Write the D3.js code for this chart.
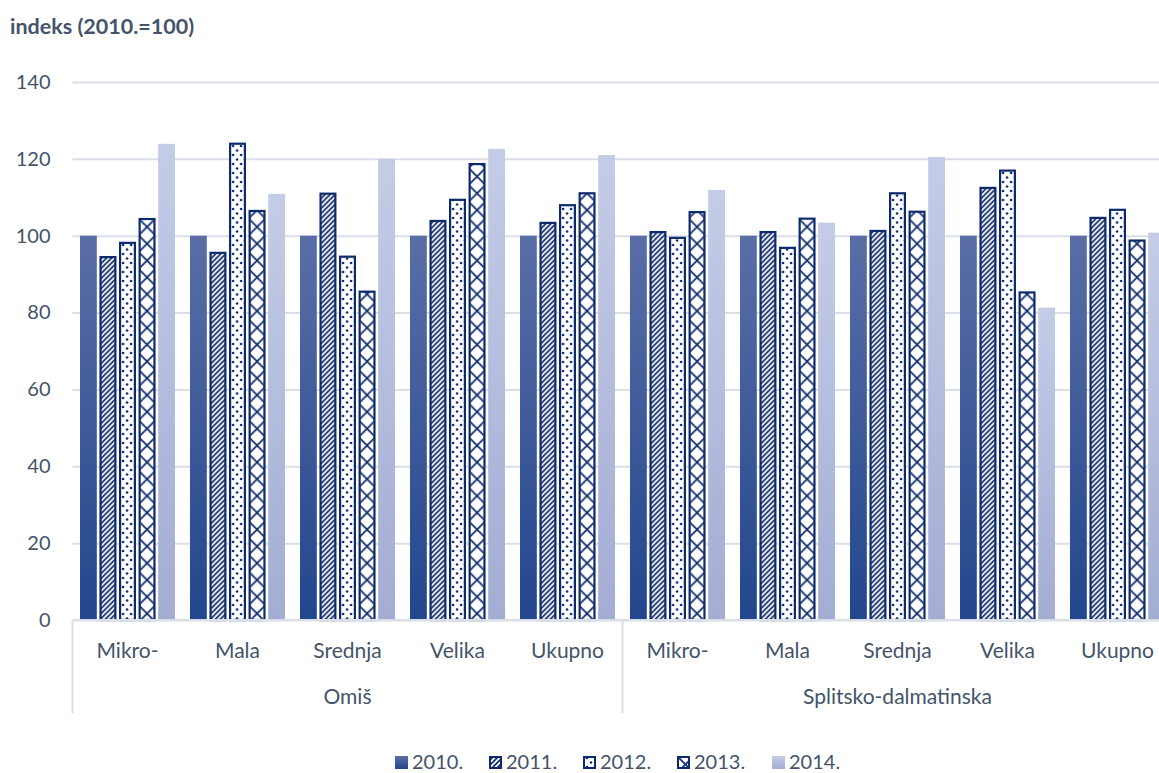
<!DOCTYPE html>
<html><head><meta charset="utf-8">
<script src="https://cdn.jsdelivr.net/npm/d3@7"></script>
<style>body{margin:0;background:#fff}svg{display:block;font-family:Lato,"Open Sans",sans-serif}</style>
</head><body><svg id="c" width="1159" height="773"></svg>
<script>
const groups = ["Omiš", "Splitsko-dalmatinska"];
const categories = ["Mikro-", "Mala", "Srednja", "Velika", "Ukupno"];
const years = ["2010.", "2011.", "2012.", "2013.", "2014."];
const v2010 = [100, 100, 100, 100, 100, 100, 100, 100, 100, 100];
const v2011 = [94.7, 95.8, 111.2, 104.1, 103.6, 101.2, 101.2, 101.5, 112.7, 104.9];
const v2012 = [98.4, 124.2, 94.8, 109.6, 108.2, 99.7, 97.1, 111.3, 117.2, 107.0];
const v2013 = [104.6, 106.7, 85.7, 118.9, 111.3, 106.4, 104.7, 106.5, 85.5, 99.0];
const v2014 = [123.9, 110.9, 120.0, 122.6, 121.0, 111.9, 103.4, 120.5, 81.3, 100.8];
const yTicks = [0, 20, 40, 60, 80, 100, 120, 140];
const series = [v2010, v2011, v2012, v2013, v2014];

const svg = d3.select("#c");
const textCol = "#44546a", navy = "#0e2a6a", grid = "#dadee6";
const defs = svg.append("defs");
function grad(id, top, bot) {
  const g = defs.append("linearGradient").attr("id", id).attr("x1", 0).attr("y1", 0).attr("x2", 0).attr("y2", 1);
  g.append("stop").attr("offset", 0).attr("stop-color", top);
  g.append("stop").attr("offset", 1).attr("stop-color", bot);
}
grad("g2010", "#5a6ea6", "#22468d");
grad("g2014", "#c4cce7", "#a3add3");
// patterns
const pDiag = defs.append("pattern").attr("id", "p2011").attr("patternUnits", "userSpaceOnUse").attr("width", 5).attr("height", 5);
pDiag.append("rect").attr("width", 5).attr("height", 5).attr("fill", "#fff");
pDiag.append("path").attr("d", "M-1,6 L6,-1 M-1,1 L1,-1 M4,6 L6,4").attr("stroke", navy).attr("stroke-width", 1.7);
const pDot = defs.append("pattern").attr("id", "p2012").attr("patternUnits", "userSpaceOnUse").attr("width", 8).attr("height", 9);
pDot.append("rect").attr("width", 8).attr("height", 9).attr("fill", "#fff");
pDot.append("circle").attr("cx", 4).attr("cy", 2).attr("r", 1.3).attr("fill", navy);
pDot.append("circle").attr("cx", 0).attr("cy", 6.5).attr("r", 1.3).attr("fill", navy);
pDot.append("circle").attr("cx", 8).attr("cy", 6.5).attr("r", 1.3).attr("fill", navy);

const y = d3.scaleLinear().domain([0, 140]).range([620, 82]);
const x0 = d3.scaleBand().domain(d3.range(10)).range([72.5, 1172.5]).paddingInner(0).paddingOuter(0);
const x1 = d3.scaleBand().domain(years).range([7.5, 102.5]).paddingInner(0.14).paddingOuter(0);
const bw = x1.bandwidth();

const pLat = defs.append("pattern").attr("id", "p2013").attr("patternUnits", "userSpaceOnUse").attr("width", bw).attr("height", bw);
pLat.append("rect").attr("width", bw).attr("height", bw).attr("fill", "#fff");
pLat.append("path").attr("d", `M0,0 L${bw},${bw} M${bw},0 L0,${bw}`).attr("stroke", navy).attr("stroke-width", 1.7);

// title
svg.append("text").attr("x", 10).attr("y", 34).attr("fill", textCol).attr("font-size", 21.5).attr("font-weight", "bold").text("indeks (2010.=100)");

// grid
const yAxis = d3.axisLeft(y).tickValues(yTicks).tickSize(-(1172.5 - 72.5)).tickPadding(22);
const ga = svg.append("g").attr("transform", "translate(72.5,0)").call(yAxis);
ga.select(".domain").remove();
ga.selectAll(".tick line").attr("stroke", grid).attr("stroke-width", 2);
ga.selectAll(".tick text").attr("fill", textCol).attr("font-size", 20).attr("font-family", "Lato,sans-serif");

// bars
const fills = ["url(#g2010)", "url(#p2011)", "url(#p2012)", "url(#p2013)", "url(#g2014)"];
series.forEach((vals, si) => {
  vals.forEach((v, ci) => {
    const g = svg.append("g").attr("transform", `translate(${x0(ci) + x1(years[si])},0)`);
    if (si === 0 || si === 4) {
      g.append("rect").attr("x", 0).attr("y", y(v)).attr("width", bw).attr("height", y(0) - y(v)).attr("fill", fills[si]);
    } else {
      g.append("rect").attr("x", 1).attr("y", y(v) + 1).attr("width", bw - 2).attr("height", y(0) - y(v) - 1)
        .attr("fill", fills[si]).attr("stroke", navy).attr("stroke-width", 2.2);
    }
  });
});

// category axis frame
svg.append("line").attr("x1", 72.5).attr("x2", 1172.5).attr("y1", y(0)).attr("y2", y(0)).attr("stroke", grid).attr("stroke-width", 2);
[0, 5, 10].forEach(i => {
  const xx = i === 10 ? 1172.5 : x0(i);
  svg.append("line").attr("x1", xx).attr("x2", xx).attr("y1", y(0)).attr("y2", 713).attr("stroke", grid).attr("stroke-width", 2);
});
d3.range(10).forEach(ci => {
  svg.append("text").attr("x", x0(ci) + x0.bandwidth() / 2).attr("y", 658).attr("text-anchor", "middle")
    .attr("fill", textCol).attr("font-size", 21).text(categories[ci % 5]);
});
groups.forEach((gname, gi) => {
  svg.append("text").attr("x", x0(gi * 5) + x0.bandwidth() * 2.5).attr("y", 704).attr("text-anchor", "middle")
    .attr("fill", textCol).attr("font-size", 21).text(gname);
});

// legend
const legX = [395, 489, 583, 677, 772];
years.forEach((yr, i) => {
  const g = svg.append("g").attr("transform", `translate(${legX[i]},756)`);
  if (i === 0 || i === 4) g.append("rect").attr("width", 13).attr("height", 13).attr("fill", fills[i]);
  else g.append("rect").attr("x", 1).attr("y", 1).attr("width", 11).attr("height", 11).attr("fill", fills[i]).attr("stroke", navy).attr("stroke-width", 2);
  g.append("text").attr("x", 17).attr("y", 13).attr("fill", textCol).attr("font-size", 20).attr("font-size-adjust", null).text(yr);
});
</script></body></html>
